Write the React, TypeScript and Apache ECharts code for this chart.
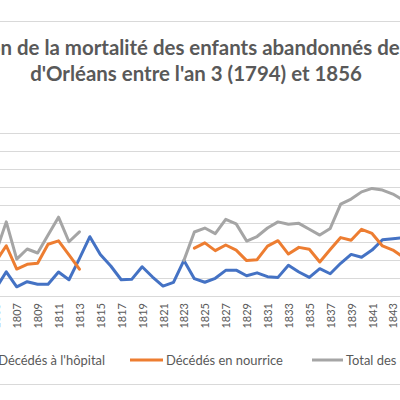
import React, { useEffect, useRef } from "react";
import * as echarts from "echarts";

const years = [
  "1805", "1806", "1807", "1808", "1809", "1810", "1811", "1812", "1813", "1814",
  "1815", "1816", "1817", "1818", "1819", "1820", "1821", "1822", "1823", "1824",
  "1825", "1826", "1827", "1828", "1829", "1830", "1831", "1832", "1833", "1834",
  "1835", "1836", "1837", "1838", "1839", "1840", "1841", "1842", "1843", "1844",
];

const deathsHospital = [
  4, 13.4, 5.1, 7.9, 6.5, 6.5, 13.3, 9.0, 20.7, 32.8,
  22.9, 16.6, 9.0, 9.2, 16.2, 10.5, 5.5, 7.5, 19.7, 9.6,
  7.6, 9.8, 14.2, 14.3, 11.2, 12.8, 10.7, 10.3, 17.0, 13.3,
  10.3, 15.1, 12.3, 18.1, 23.0, 21.4, 25.4, 31.1, 31.7, 32.3,
];

const deathsNurse = [
  19, 27.8, 14.9, 17.5, 18.1, 28.6, 30.5, 22.8, 14.8, null,
  null, null, null, null, null, null, null, null, null, 26.5,
  29.4, 25.1, 28.2, 25.4, 19.6, 20.1, 27.6, 30.6, 23.2, 26.9,
  25.9, 18.8, 25.7, 32.3, 30.8, 36.9, 34.6, 27.7, 25.4, 21.5,
];

const deathsTotal = [
  24, 41.0, 20.4, 26.0, 23.8, 33.7, 43.6, 30.0, 35.5, null,
  null, null, null, null, null, null, null, null, 19.7, 35.4,
  37.6, 34.5, 42.4, 39.9, 30.4, 32.9, 37.6, 41.0, 39.7, 40.2,
  36.9, 33.7, 37.4, 50.8, 53.6, 57.6, 59.5, 58.6, 56.4, 53.0,
];

const seriesNames = ["Décédés à l'hôpital", "Décédés en nourrice", "Total des décès"];
const seriesColors = ["#4472C4", "#ED7D31", "#A5A5A5"];
const titleLine1 = "Évolution de la mortalité des enfants abandonnés de l'hôpital";
const titleLine2 = "d'Orléans entre l'an 3 (1794) et 1856";

function measure(text: string, font: string): number {
  const ctx = document.createElement("canvas").getContext("2d");
  if (!ctx) return text.length * 8;
  ctx.font = font;
  return ctx.measureText(text).width;
}

export default function App() {
  const ref = useRef<HTMLDivElement>(null);

  useEffect(() => {
    if (!ref.current) return;
    const chart = echarts.init(ref.current, undefined, { renderer: "svg" });

    const FONT = "Lato";
    const titleSize = 18 * (332 / measure(titleLine2, `bold 18px ${FONT}`));
    const titleFont = `bold ${titleSize}px ${FONT}`;
    const t1x = 0.5 - measure("Évolutio", titleFont);

    const legSize = 13 * (117 / measure(seriesNames[1], `13px ${FONT}`));
    const legFont = `${legSize}px ${FONT}`;
    const w0 = measure(seriesNames[0], legFont);

    const legY = 360;
    const iconH = 3;

    chart.setOption({
      animation: false,
      backgroundColor: "#ffffff",
      grid: {
        left: -9.4,
        top: 133.3,
        width: 418,
        height: 162.7,
        containLabel: false,
        outerBoundsMode: "none",
      },
      xAxis: {
        type: "category",
        data: years,
        boundaryGap: true,
        axisLine: { lineStyle: { color: "#d9d9d9", width: 1 } },
        axisTick: { show: false },
        axisLabel: {
          interval: 1,
          rotate: 90,
          margin: 7,
          color: "#595959",
          fontFamily: FONT,
          fontSize: 11,
          hideOverlap: false,
        },
      },
      yAxis: {
        type: "value",
        min: 0,
        max: 90,
        interval: 10,
        axisLabel: { show: false },
        axisLine: { show: false },
        axisTick: { show: false },
        splitLine: { lineStyle: { color: "#d9d9d9", width: 1 } },
      },
      series: [deathsHospital, deathsNurse, deathsTotal].map((d, i) => ({
        name: seriesNames[i],
        type: "line",
        data: d,
        symbol: "none",
        connectNulls: false,
        lineStyle: { width: 3, color: seriesColors[i], cap: "round", join: "round" },
        itemStyle: { color: seriesColors[i] },
      })),
      graphic: [
        { type: "line", shape: { x1: -5, y1: 21.5, x2: 405, y2: 21.5 }, style: { stroke: "#d9d9d9", lineWidth: 1 } },
        { type: "line", shape: { x1: -5, y1: 384.5, x2: 405, y2: 384.5 }, style: { stroke: "#d9d9d9", lineWidth: 1 } },
        {
          type: "text",
          x: t1x,
          y: 47,
          style: { text: titleLine1, font: titleFont, fill: "#595959", align: "left", verticalAlign: "middle" },
        },
        {
          type: "text",
          x: 196,
          y: 73,
          style: { text: titleLine2, font: titleFont, fill: "#595959", align: "center", verticalAlign: "middle" },
        },
        { type: "rect", shape: { x: 105 - w0 - 3 - 33, y: legY - iconH / 2, width: 33, height: iconH }, style: { fill: seriesColors[0] } },
        {
          type: "text",
          x: 105,
          y: legY,
          style: { text: seriesNames[0], font: legFont, fill: "#595959", align: "right", verticalAlign: "middle" },
        },
        { type: "rect", shape: { x: 130, y: legY - iconH / 2, width: 33, height: iconH }, style: { fill: seriesColors[1] } },
        {
          type: "text",
          x: 166,
          y: legY,
          style: { text: seriesNames[1], font: legFont, fill: "#595959", align: "left", verticalAlign: "middle" },
        },
        { type: "rect", shape: { x: 312, y: legY - iconH / 2, width: 31, height: iconH }, style: { fill: seriesColors[2] } },
        {
          type: "text",
          x: 346,
          y: legY,
          style: { text: seriesNames[2], font: legFont, fill: "#595959", align: "left", verticalAlign: "middle" },
        },
      ],
    });

    return () => chart.dispose();
  }, []);

  return (
    <div
      ref={ref}
      style={{ position: "fixed", left: 0, top: 0, width: 400, height: 400, background: "#ffffff" }}
    />
  );
}
